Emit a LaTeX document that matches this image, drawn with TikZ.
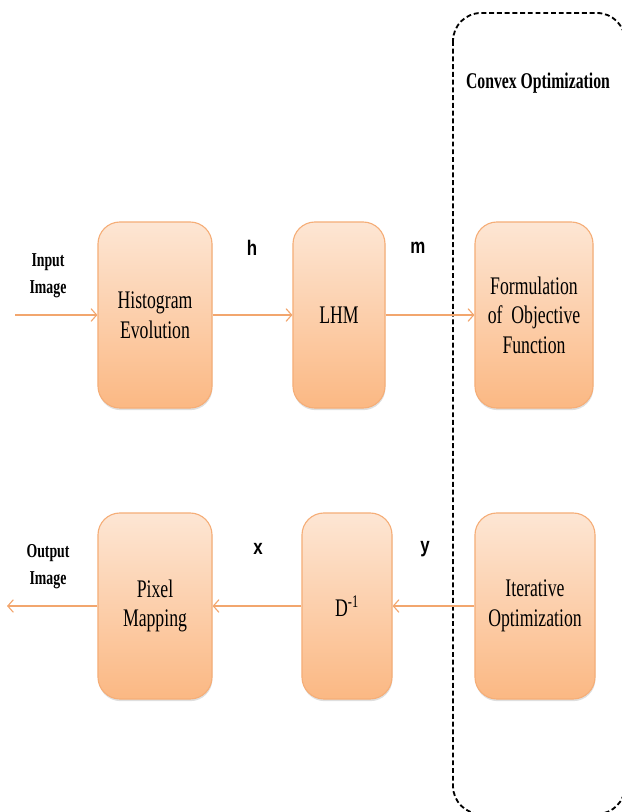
\documentclass[tikz,border=0pt]{standalone}
\usepackage{fontspec}
\setmainfont{Liberation Serif}[FakeStretch=0.7]
\newfontfamily\lblfont{Liberation Sans}[FakeStretch=0.8]
\usetikzlibrary{arrows.meta,shadows}

\definecolor{boxline}{HTML}{F5AE78}
\definecolor{boxtop}{HTML}{FDE6D4}
\definecolor{boxbottom}{HTML}{FBB883}
\definecolor{flow}{HTML}{F2A66E}

\tikzset{
  block/.style={draw=boxline, line width=0.8pt, rounded corners=0.55cm,
    top color=boxtop, bottom color=boxbottom, minimum height=4.65cm,
    align=center, font=\fontsize{18}{21}\selectfont,
    drop shadow={opacity=0.25,shadow xshift=0.3pt,shadow yshift=-1.5pt}},
  flowarrow/.style={draw=flow, line width=0.8pt, -{Straight Barb[length=4pt,width=9pt]}},
  sidelbl/.style={font=\fontsize{14}{19}\selectfont\bfseries, align=center},
  varlbl/.style={font=\lblfont\bfseries\fontsize{15}{18}\selectfont}
}

\begin{document}
\begin{tikzpicture}[x=0.025cm,y=-0.025cm]
\useasboundingbox (0,0) rectangle (622,812);

% convex optimization frame
\draw[line width=1.3pt, rounded corners=0.7cm, dash pattern=on 3.5pt off 2pt] (453,13) rectangle (625,814);
\node[font=\fontsize{16}{19}\selectfont\bfseries] (convex) at (538,83) {Convex Optimization};

\node[block, minimum width=2.85cm] (hist) at (155,315) {Histogram\\Evolution};
\node[block, minimum width=2.3cm] (lhm) at (339,315) {LHM};
\node[block, minimum width=2.95cm] (formul) at (534,315) {Formulation\\of~ Objective\\Function};

\node[block, minimum width=2.85cm] (pixmap) at (155,606) {Pixel\\Mapping};
\node[block, minimum width=2.25cm] (dinv) at (347,606) {D\textsuperscript{-1}};
\node[block, minimum width=3cm] (iter) at (535,606) {Iterative\\Optimization};

\node[sidelbl] (inlbl) at (48,276) {Input\\Image};
\node[sidelbl] (outlbl) at (48,567) {Output\\Image};
\node[varlbl] (hlbl) at (252,248) {h};
\node[varlbl] (mlbl) at (418,248) {m};
\node[varlbl] (xlbl) at (258,549) {x};
\node[varlbl] (ylbl) at (425,549) {y};

\coordinate (in) at (15,315);
\coordinate (out) at (7,606);
\draw[flowarrow] (in) -- (hist);
\draw[flowarrow] (hist) -- (lhm);
\draw[flowarrow] (lhm) -- (formul);
\draw[flowarrow] (iter) -- (dinv);
\draw[flowarrow] (dinv) -- (pixmap);
\draw[flowarrow] (pixmap) -- (out);

\end{tikzpicture}
\end{document}
